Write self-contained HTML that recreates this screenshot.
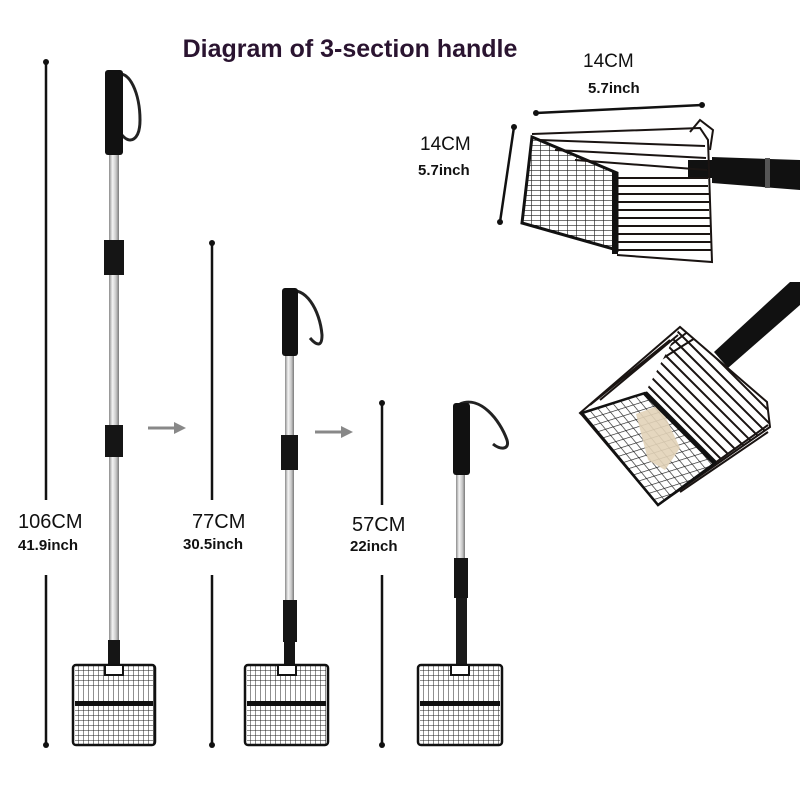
<!DOCTYPE html>
<html><head><meta charset="utf-8"><style>
html,body{margin:0;padding:0;background:#fff;width:800px;height:800px;overflow:hidden}
svg{display:block}
text{font-family:"Liberation Sans",sans-serif}
</style></head><body>
<svg width="800" height="800" viewBox="0 0 800 800" xmlns="http://www.w3.org/2000/svg">
<defs>
<linearGradient id="tube" x1="0" x2="1" y1="0" y2="0">
<stop offset="0" stop-color="#8a8a8a"/><stop offset="0.35" stop-color="#f4f4f4"/><stop offset="0.7" stop-color="#c8c8c8"/><stop offset="1" stop-color="#7a7a7a"/>
</linearGradient>
<pattern id="grid" width="5" height="5" patternUnits="userSpaceOnUse">
<path d="M0 0H5M0 0V5" stroke="#222" stroke-width="0.9" fill="none"/>
</pattern>
<pattern id="vgrid" width="5" height="10" patternUnits="userSpaceOnUse">
<path d="M0 0V10" stroke="#222" stroke-width="1" fill="none"/>
</pattern>
<pattern id="g2" width="8" height="8" patternUnits="userSpaceOnUse" patternTransform="matrix(0.95,-0.3,0.64,0.77,582,413)">
<path d="M0 0H8M0 0V8" stroke="#222" stroke-width="1.4" fill="none"/>
</pattern>
<pattern id="g3" width="9" height="5" patternUnits="userSpaceOnUse">
<path d="M0 0H9M0 0V5" stroke="#222" stroke-width="1.3" fill="none"/>
</pattern>
<clipPath id="lowclip"><polygon points="645,393 680,327 767,402 770,427 715,463"/></clipPath>
</defs>
<rect width="800" height="800" fill="#fff"/>
<text x="350" y="57" text-anchor="middle" font-size="25" font-weight="bold" fill="#2a1430">Diagram of 3-section handle</text>

<g stroke="#111" stroke-width="2.5">
<line x1="46" y1="62" x2="46" y2="500"/><line x1="46" y1="575" x2="46" y2="745"/>
<line x1="212" y1="243" x2="212" y2="500"/><line x1="212" y1="575" x2="212" y2="745"/>
<line x1="382" y1="403" x2="382" y2="505"/><line x1="382" y1="575" x2="382" y2="745"/>
</g>
<g fill="#111"><circle cx="46" cy="62" r="3"/><circle cx="46" cy="745" r="3"/><circle cx="212" cy="243" r="3"/><circle cx="212" cy="745" r="3"/><circle cx="382" cy="403" r="3"/><circle cx="382" cy="745" r="3"/></g>
<g fill="#111">
<text x="18" y="528" font-size="20">106CM</text><text x="18" y="550" font-size="15" font-weight="bold">41.9inch</text>
<text x="192" y="528" font-size="20">77CM</text><text x="183" y="549" font-size="15" font-weight="bold">30.5inch</text>
<text x="352" y="531" font-size="20">57CM</text><text x="350" y="551" font-size="15" font-weight="bold">22inch</text>
</g>

<g stroke="#888" stroke-width="3" fill="#888">
<line x1="148" y1="428" x2="176" y2="428"/><polygon points="174,422 186,428 174,434" stroke="none"/>
<line x1="315" y1="432" x2="343" y2="432"/><polygon points="341,426 353,432 341,438" stroke="none"/>
</g>

<path d="M115 75 C130 68 140 95 140 120 C140 140 130 145 122 135" stroke="#222" stroke-width="3" fill="none"/>
<rect x="109" y="150" width="10" height="515" fill="url(#tube)"/>
<rect x="105" y="70" width="18" height="85" rx="3" fill="#111"/>
<rect x="104" y="240" width="20" height="35" fill="#151515"/>
<rect x="105" y="425" width="18" height="32" fill="#151515"/>
<rect x="108" y="640" width="12" height="28" fill="#151515"/>
<path d="M288 292 C305 285 320 310 322 335 C322 348 316 345 310 338" stroke="#222" stroke-width="3" fill="none"/>
<rect x="285" y="350" width="9" height="315" fill="url(#tube)"/>
<rect x="282" y="288" width="16" height="68" rx="3" fill="#111"/>
<rect x="281" y="435" width="17" height="35" fill="#151515"/>
<rect x="283" y="600" width="14" height="42" fill="#151515"/>
<rect x="284" y="642" width="11" height="24" fill="#151515"/>
<path d="M460 404 C480 395 500 420 507 440 C510 450 500 450 493 444" stroke="#222" stroke-width="3" fill="none"/>
<rect x="456" y="470" width="9" height="95" fill="url(#tube)"/>
<rect x="453" y="403" width="17" height="72" rx="3" fill="#111"/>
<rect x="454" y="558" width="14" height="40" fill="#151515"/>
<rect x="456" y="598" width="11" height="68" fill="#1a1a1a"/>

<g transform="translate(73,665)">
<rect x="0" y="0" width="82" height="80" fill="url(#vgrid)" stroke="#111" stroke-width="2.5" rx="3"/>
<rect x="2" y="2" width="78" height="20" fill="url(#grid)"/>
<rect x="32" y="0" width="18" height="10" fill="#fff" stroke="#111" stroke-width="2"/>
<rect x="2" y="36" width="78" height="5" fill="#111"/>
<rect x="2" y="41" width="78" height="37" fill="url(#grid)"/>
</g>
<g transform="translate(245,665)">
<rect x="0" y="0" width="83" height="80" fill="url(#vgrid)" stroke="#111" stroke-width="2.5" rx="3"/>
<rect x="2" y="2" width="79" height="20" fill="url(#grid)"/>
<rect x="33" y="0" width="18" height="10" fill="#fff" stroke="#111" stroke-width="2"/>
<rect x="2" y="36" width="79" height="5" fill="#111"/>
<rect x="2" y="41" width="79" height="37" fill="url(#grid)"/>
</g>
<g transform="translate(418,665)">
<rect x="0" y="0" width="84" height="80" fill="url(#vgrid)" stroke="#111" stroke-width="2.5" rx="3"/>
<rect x="2" y="2" width="80" height="20" fill="url(#grid)"/>
<rect x="33" y="0" width="18" height="10" fill="#fff" stroke="#111" stroke-width="2"/>
<rect x="2" y="36" width="80" height="5" fill="#111"/>
<rect x="2" y="41" width="80" height="37" fill="url(#grid)"/>
</g>

<g fill="#111">
<text x="583" y="67" font-size="19">14CM</text><text x="588" y="93" font-size="15" font-weight="bold">5.7inch</text>
<text x="420" y="150" font-size="19">14CM</text><text x="418" y="175" font-size="15" font-weight="bold">5.7inch</text>
</g>
<g stroke="#111" stroke-width="2.5"><line x1="536" y1="113" x2="702" y2="105"/><line x1="514" y1="127" x2="500" y2="222"/></g>
<g fill="#111"><circle cx="536" cy="113" r="3"/><circle cx="702" cy="105" r="3"/><circle cx="514" cy="127" r="3"/><circle cx="500" cy="222" r="3"/></g>

<!-- top scoop -->
<polygon points="712,157 800,160 800,190 712,183" fill="#111"/>
<rect x="765" y="158" width="5" height="30" fill="#555"/>
<rect x="688" y="160" width="26" height="18" fill="#111"/>
<polygon points="532,137 617,173 617,250 522,223" fill="url(#g3)" stroke="#111" stroke-width="3"/>
<g stroke="#1a1412" fill="none" stroke-width="2">
<path d="M532 134 L700 128 L708 140 L712 262 L617 255"/>
<path d="M540 140 L705 146 M555 150 L706 158 M575 160 L707 170"/>
<path d="M617 178 H708 M617 186 H708 M617 194 H709 M617 202 H709 M617 210 H709 M617 218 H710 M617 226 H710 M617 234 H710 M617 242 H711 M617 250 H711"/>
<path d="M690 132 L700 120 L713 130 L710 150"/>
</g>
<rect x="612" y="172" width="6" height="82" fill="#111"/>

<!-- lower scoop -->
<polygon points="714,352 790,282 800,282 800,305 728,368" fill="#111"/>
<g clip-path="url(#lowclip)" stroke="#1a1412" stroke-width="2" fill="none">
<path d="M648 386 l110 110 M652 378 l110 110 M656 370 l110 110 M660 362 l110 110 M664 354 l110 110 M668 346 l110 110 M672 338 l110 110 M676 330 l110 110 M680 322 l110 110"/>
<path d="M600 400 L690 330 M612 390 L700 335"/>
</g>
<g stroke="#1a1412" stroke-width="2" fill="none">
<path d="M580 413 L680 327 L767 402 L770 427 L658 505 L582 415 Z"/>
<path d="M715 463 L768 425 M680 492 L768 432"/>
<path d="M590 405 L670 340 M600 400 L678 335"/>
</g>
<polygon points="582,413 645,393 715,463 658,505" fill="url(#g2)" stroke="#111" stroke-width="2.5"/>
<polygon points="636,414 660,405 680,448 665,470 648,460" fill="#e2d3b8" opacity="0.9"/>
<line x1="645" y1="393" x2="715" y2="463" stroke="#111" stroke-width="5"/>
</svg>
</body></html>
